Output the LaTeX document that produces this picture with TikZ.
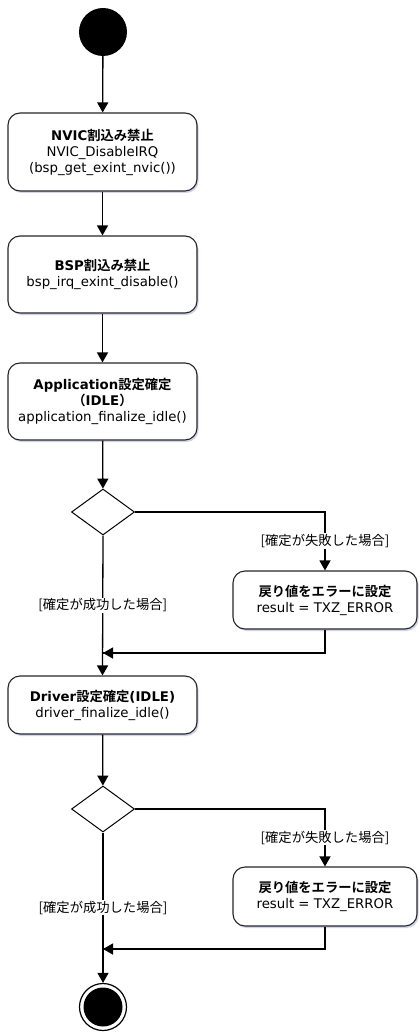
\documentclass[tikz,border=0pt]{standalone}
\usepackage{fontspec}
\setmainfont{DejaVu Sans}
\newfontfamily\jp{Noto Sans CJK JP}[BoldFont={Noto Sans CJK JP Bold}]
\usetikzlibrary{arrows.meta,shapes.geometric,shadows}
\begin{document}
\begin{tikzpicture}[x=1pt,y=-1pt,
  every node/.style={font=\fontsize{13.3}{16}\selectfont},
  flow/.style={line width=1.3pt,-{Triangle[width=11pt,length=10pt]}},
  line/.style={line width=1.3pt},
  actbox/.style={draw=black!85,line width=1.1pt,rounded corners=12pt,fill=white,align=center,inner sep=0pt,
    drop shadow={shadow xshift=1.5pt,shadow yshift=-2pt,fill=blue!40!gray,opacity=0.25}},
  decision/.style={draw=black,line width=1pt,diamond,fill=white,inner sep=0pt,minimum width=63pt,minimum height=46pt,aspect=1.37},
  guard/.style={fill=white,inner sep=1pt},
  startnode/.style={circle,fill=black,minimum size=48pt,inner sep=0pt},
]
\useasboundingbox (0,0) rectangle (418,1032);

\node[startnode] (start) at (103,32) {};

\node[actbox,minimum width=189pt,minimum height=78pt] (b1) at (102.5,152)
  {\textbf{NVIC{\jp 割込み禁止}}\\NVIC\_DisableIRQ\\(bsp\_get\_exint\_nvic())};
\node[actbox,minimum width=189pt,minimum height=77pt] (b2) at (102.5,274.5)
  {\textbf{BSP{\jp 割込み禁止}}\\bsp\_irq\_exint\_disable()};
\node[actbox,minimum width=189pt,minimum height=77pt] (b3) at (102.5,401.5)
  {\textbf{Application{\jp 設定確定}}\\\textbf{{\jp （}IDLE{\jp ）}}\\application\_finalize\_idle()};

\node[decision] (d1) at (103,512) {};

\node[actbox,minimum width=184pt,minimum height=58pt] (b4) at (325,600)
  {\textbf{\jp 戻り値をエラーに設定}\\result = TXZ\_ERROR};
\coordinate (m1) at (103,653);

\node[actbox,minimum width=189pt,minimum height=58pt] (b5) at (102.5,705)
  {\textbf{Driver{\jp 設定確定}(IDLE)}\\driver\_finalize\_idle()};

\node[decision] (d2) at (103,809) {};

\node[actbox,minimum width=184pt,minimum height=59pt] (b6) at (325,896.5)
  {\textbf{\jp 戻り値をエラーに設定}\\result = TXZ\_ERROR};
\coordinate (m2) at (103,949);

\node[circle,draw=black,line width=1.2pt,fill=white,minimum size=47pt,inner sep=0pt] (end) at (103,1007) {};
\node[circle,fill=black,minimum size=39pt,inner sep=0pt] (endin) at (end.center) {};

\draw[flow] (start) -- (b1);
\draw[flow] (b1) -- (b2);
\draw[flow] (b2) -- (b3);
\draw[flow] (b3) -- (d1);
\draw[flow] (d1.east) -| (b4.north) node[guard,pos=0.75] {\jp [確定が失敗した場合]};
\draw[line] (b4.south) |- (m1);
\draw[flow] (b4.south |- m1) -- (m1);
\draw[flow] (d1.south) -- (b5.north) node[guard,pos=0.5] {\jp [確定が成功した場合]};
\draw[flow] (b5) -- (d2);
\draw[flow] (d2.east) -| (b6.north) node[guard,pos=0.75] {\jp [確定が失敗した場合]};
\draw[line] (b6.south) |- (m2);
\draw[flow] (b6.south |- m2) -- (m2);
\draw[flow] (d2.south) -- (end.north) node[guard,pos=0.5] {\jp [確定が成功した場合]};
\end{tikzpicture}
\end{document}
